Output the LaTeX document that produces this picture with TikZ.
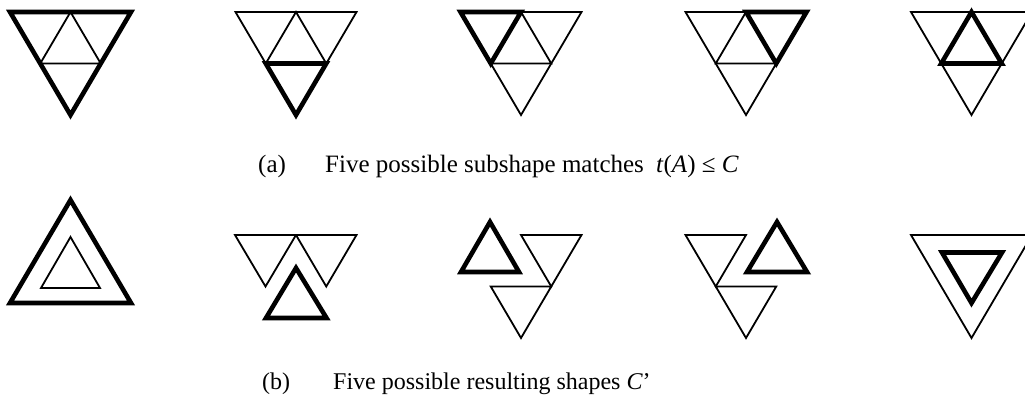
\documentclass[tikz,border=0pt]{standalone}
\usepackage{fontspec}
\setmainfont{Liberation Serif}
\begin{document}
\begin{tikzpicture}[x=1pt,y=-1pt,
  thin line/.style={line width=1.8pt},
  thick line/.style={line width=4.6pt},
  caption/.style={anchor=base west,inner sep=0pt}]
\useasboundingbox (0,0) rectangle (1025,399);
\clip (0,0) rectangle (1025,399);
% ---------- top row: the grid shape C with the matched part in bold ----------
\foreach \cx/\k in {70.5/1,296/2,521/3,746/4,971.5/5}{
  \coordinate (TL) at (\cx-60.5,12);
  \coordinate (TR) at (\cx+60.5,12);
  \coordinate (B)  at (\cx,115);
  \coordinate (MT) at (\cx,12);
  \coordinate (ML) at (\cx-30.25,63.5);
  \coordinate (MR) at (\cx+30.25,63.5);
  \draw[thin line] (TL) -- (TR) -- (B) -- cycle;
  \draw[thin line] (MT) -- (ML) -- (MR) -- cycle;
  \ifnum\k=1 \draw[thick line] (TL) -- (TR) -- (B) -- cycle; \fi
  \ifnum\k=2 \draw[thick line] (ML) -- (MR) -- (B) -- cycle; \fi
  \ifnum\k=3 \draw[thick line] (TL) -- (MT) -- (ML) -- cycle; \fi
  \ifnum\k=4 \draw[thick line] (MT) -- (TR) -- (MR) -- cycle; \fi
  \ifnum\k=5 \draw[thick line] (MT) -- (ML) -- (MR) -- cycle; \fi
}
\node[caption,font=\fontsize{25}{29}\selectfont] (la) at (258,172) {(a)};
\node[caption,font=\fontsize{25}{29}\selectfont] (ta) at (325,172) {Five possible subshape matches\hspace{6pt} \textit{t}(\textit{A}) ≤ \textit{C}};
% ---------- bottom row: resulting shapes C' ----------
% 1
\draw[thick line] (10,303) -- (131,303) -- (70.5,200) -- cycle;
\draw[thin line] (41,288) -- (100,288) -- (70.5,237) -- cycle;
% 2
\draw[thin line] (235,235) -- (296,235) -- (265.5,286.5) -- cycle;
\draw[thin line] (296,235) -- (356.5,235) -- (326.25,286.5) -- cycle;
\draw[thick line] (266,318) -- (326.5,318) -- (296,268) -- cycle;
% 3
\draw[thin line] (521,235) -- (581.5,235) -- (551.25,286.5) -- cycle;
\draw[thin line] (490.75,286.5) -- (551.25,286.5) -- (521,338) -- cycle;
\draw[thick line] (461,272) -- (519,272) -- (490,222) -- cycle;
% 4
\draw[thin line] (685.5,235) -- (746,235) -- (715.75,286.5) -- cycle;
\draw[thin line] (715.75,286.5) -- (776.25,286.5) -- (746,338) -- cycle;
\draw[thick line] (747,272) -- (807,272) -- (777,222) -- cycle;
% 5
\draw[thin line] (911,235) -- (1032,235) -- (971.5,338) -- cycle;
\draw[thick line] (942,252.5) -- (1002,252.5) -- (971.5,303) -- cycle;
\node[caption,font=\fontsize{24}{28}\selectfont] (lb) at (262,389) {(b)};
\node[caption,font=\fontsize{24}{28}\selectfont] (tb) at (333,389) {Five possible resulting shapes \textit{C}’};
\end{tikzpicture}
\end{document}
